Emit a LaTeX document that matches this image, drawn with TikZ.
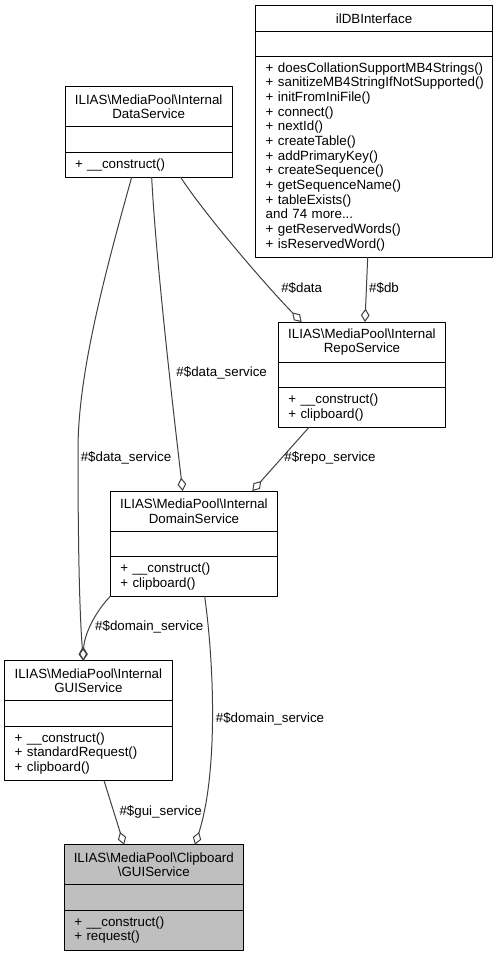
\documentclass[tikz,border=0pt]{standalone}
\usepackage{fontspec}
\setmainfont{Liberation Sans}
\usepackage{tikz}
\usetikzlibrary{arrows.meta,positioning}

\definecolor{edgegray}{HTML}{404040}
\definecolor{clipgray}{HTML}{BFBFBF}
\hyphenpenalty=10000
\exhyphenpenalty=10000

\begin{document}
\begin{tikzpicture}[line cap=round,line join=round,x=0.75pt,y=-0.75pt,
		box/.style={draw=black,line width=0.75pt,fill=white,outer sep=0pt,inner ysep=0pt,font=\fontsize{10}{11}\selectfont},
		ttl/.style={box,align=center,inner xsep=2pt,text width=#1,minimum height=30pt},
		mem/.style={box,align=left,inner xsep=7.5pt,text width=#1},
		agg/.style={draw=edgegray,line width=0.75pt,-{Diamond[open,length=10pt,width=6.5pt]}},
		lbl/.style={font=\fontsize{10}{11}\selectfont,inner sep=0pt}]
		\useasboundingbox (0.,0.) rectangle (497.,956.);
		\node[ttl=173.5pt,minimum height=19pt,anchor=north west] (dbT) at (255.7,5.7) {ilDBInterface};
		\node[mem=162.5pt,minimum height=19pt,below=0pt of dbT] (dbA) {};
		\node[mem=162.5pt,minimum height=150.75pt,below=0pt of dbA] (dbM) {+~doesCollationSupportMB4Strings()\\+~sanitizeMB4StringIfNotSupported()\\+~initFromIniFile()\\+~connect()\\+~nextId()\\+~createTable()\\+~addPrimaryKey()\\+~createSequence()\\+~getSequenceName()\\+~tableExists()\\and 74 more...\\+~getReservedWords()\\+~isReservedWord()};
		\node[ttl=121.5pt,anchor=north west] (dataT) at (65.,86.7) {ILIAS\textbackslash MediaPool\textbackslash Internal\\DataService};
		\node[mem=110.5pt,minimum height=19pt,below=0pt of dataT] (dataA) {};
		\node[mem=110.5pt,minimum height=19pt,below=0pt of dataA] (dataM) {+~\_\_construct()};
		\node[ttl=121.5pt,anchor=north west] (repoT) at (278.3,322.) {ILIAS\textbackslash MediaPool\textbackslash Internal\\RepoService};
		\node[mem=110.5pt,minimum height=19pt,below=0pt of repoT] (repoA) {};
		\node[mem=110.5pt,minimum height=30pt,below=0pt of repoA] (repoM) {+~\_\_construct()\\+~clipboard()};
		\node[ttl=121.5pt,anchor=north west] (domainT) at (110.3,491.) {ILIAS\textbackslash MediaPool\textbackslash Internal\\DomainService};
		\node[mem=110.5pt,minimum height=19pt,below=0pt of domainT] (domainA) {};
		\node[mem=110.5pt,minimum height=30pt,below=0pt of domainA] (domainM) {+~\_\_construct()\\+~clipboard()};
		\node[ttl=121.5pt,anchor=north west] (guiT) at (4.7,660.7) {ILIAS\textbackslash MediaPool\textbackslash Internal\\GUIService};
		\node[mem=110.5pt,minimum height=19pt,below=0pt of guiT] (guiA) {};
		\node[mem=110.5pt,minimum height=41pt,below=0pt of guiA] (guiM) {+~\_\_construct()\\+~standardRequest()\\+~clipboard()};
		\node[ttl=130.25pt,fill=clipgray,anchor=north west] (clipT) at (64.3,844.7) {ILIAS\textbackslash MediaPool\textbackslash Clipboard\\\textbackslash GUIService};
		\node[mem=119.25pt,fill=clipgray,minimum height=19pt,below=0pt of clipT] (clipA) {};
		\node[mem=119.25pt,fill=clipgray,minimum height=30pt,below=0pt of clipA] (clipM) {+~\_\_construct()\\+~request()};
		\draw [agg] ([xshift=86.8pt]dataM.south west) .. controls (205.,215.) and (270.,290.) .. ([xshift=17.5pt]repoT.north west);
		\draw [agg] ([xshift=84.pt]dbM.south west) -- ([xshift=65.pt]repoT.north west);
		\draw [agg] ([xshift=65.pt]dataM.south west) .. controls (156.,260.) and (172.,400.) .. ([xshift=54.3pt]domainT.north west);
		\draw [agg] ([xshift=23.pt]repoM.south west) -- ([xshift=106.5pt]domainT.north west);
		\draw [agg] ([xshift=50.pt]dataM.south west) .. controls (100.,290.) and (78.,380.) .. (78.,450.) .. controls (78.,560.) and (80.,620.) .. ([xshift=59.pt]guiT.north west);
		\draw [agg] (domainM.south west) .. controls (95.,612.) and (84.,635.) .. ([xshift=59.pt]guiT.north west);
		\draw [agg] ([xshift=70.8pt]domainM.south west) .. controls (216.,680.) and (216.,780.) .. ([xshift=98.pt]clipT.north west);
		\draw [agg] ([xshift=74.5pt]guiM.south west) -- ([xshift=44.8pt]clipT.north west);
		\node[lbl] (lData) at (301.7,288.3) {\#\$data};
		\node[lbl] (lDb) at (384.,288.3) {\#\$db};
		\node[lbl] (lDataDomain) at (221.7,373.3) {\#\$data\_service};
		\node[lbl] (lRepo) at (330.,458.3) {\#\$repo\_service};
		\node[lbl] (lDataGui) at (126.,458.3) {\#\$data\_service};
		\node[lbl] (lDomainGui) at (149.3,627.3) {\#\$domain\_service};
		\node[lbl] (lDomainClip) at (270.,719.3) {\#\$domain\_service};
		\node[lbl] (lGui) at (160.7,811.7) {\#\$gui\_service};
\end{tikzpicture}
\end{document}
